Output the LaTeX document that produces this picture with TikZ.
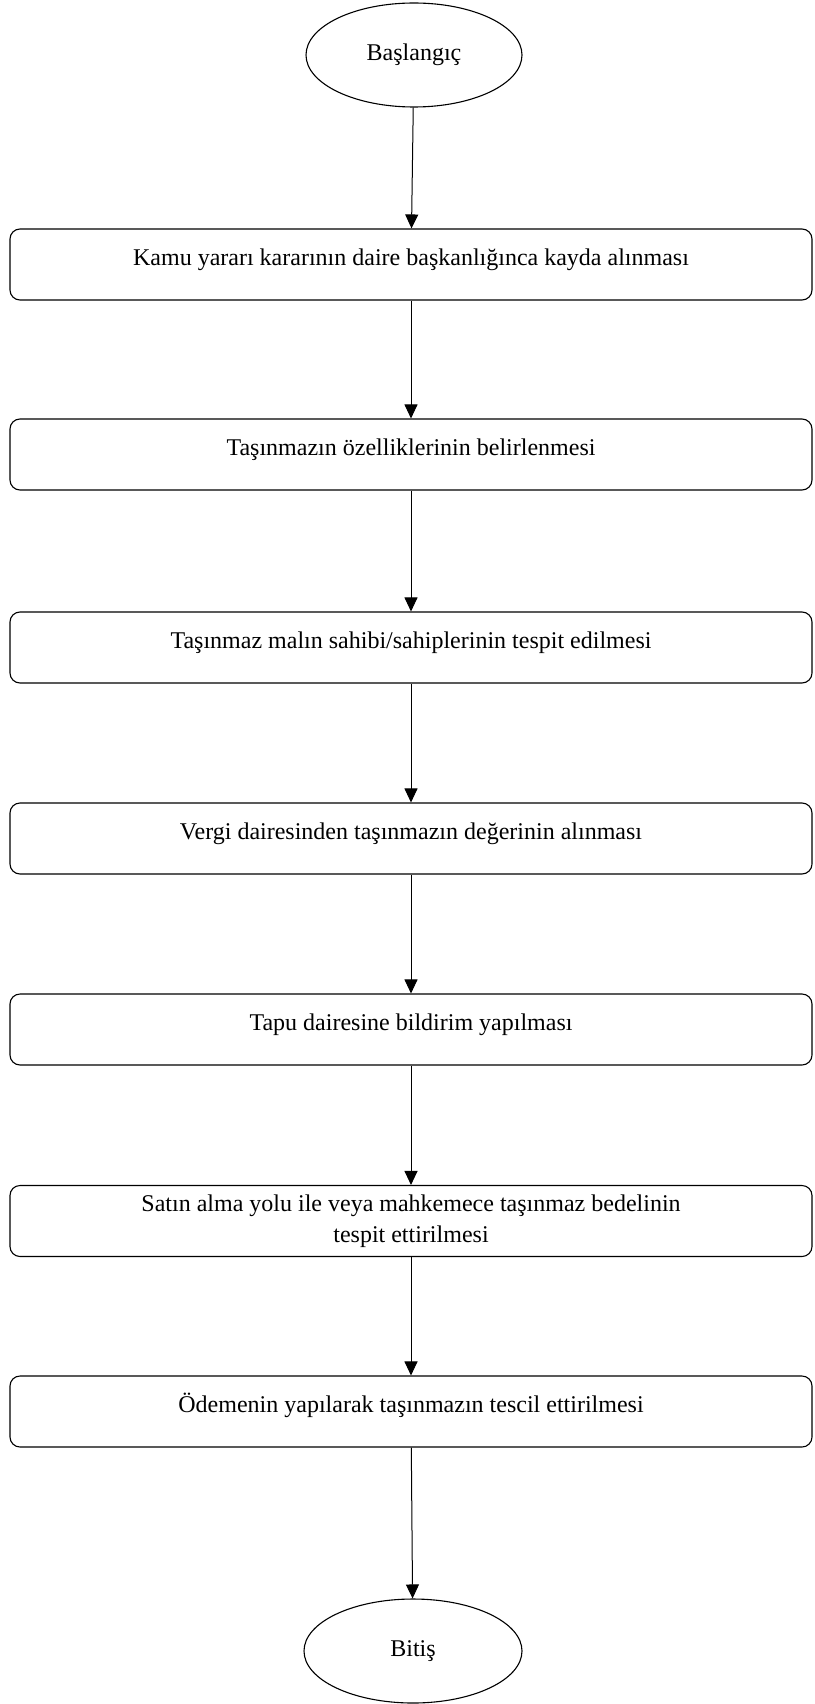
\documentclass[tikz,border=0pt]{standalone}
\usepackage{fontspec}
\setmainfont{Liberation Serif}
\usetikzlibrary{arrows.meta,shapes.geometric}

\begin{document}
\begin{tikzpicture}[
  x=1pt, y=-1pt,
  font=\fontsize{24}{31}\selectfont,
  terminal/.style = {draw, ellipse, line width=1.1pt, minimum width=216pt,
                     minimum height=104pt, inner sep=0pt},
  stepbox/.style  = {draw, rounded corners=10pt, line width=1.1pt, align=center,
                     minimum width=802pt, minimum height=71pt, inner sep=0pt},
  oneline/.style  = {stepbox, text height=0.7em, text depth=0.45em},
  arr/.style      = {-{Triangle[length=14pt,width=13pt]}, line width=1pt}
]
\useasboundingbox (0,0) rectangle (814,1704);

\node[terminal] (start) at (414,55) {Başlangıç};

\node[oneline] (kayit)   at (411,264.5) {Kamu yararı kararının daire başkanlığınca kayda alınması};
\node[oneline] (ozellik) at (411,454.5) {Taşınmazın özelliklerinin belirlenmesi};
\node[oneline] (sahip)   at (411,647.5) {Taşınmaz malın sahibi/sahiplerinin tespit edilmesi};
\node[oneline] (deger)   at (411,838.5) {Vergi dairesinden taşınmazın değerinin alınması};
\node[oneline] (tapu)    at (411,1029.5) {Tapu dairesine bildirim yapılması};
\node[stepbox] (bedel)   at (411,1221)
     {Satın alma yolu ile veya mahkemece taşınmaz bedelinin\\ tespit ettirilmesi};
\node[oneline] (tescil)  at (411,1411.5) {Ödemenin yapılarak taşınmazın tescil ettirilmesi};

\node[terminal, minimum width=218pt] (bitis) at (413,1651) {Bitiş};

\draw[arr] (start) -- (kayit);
\draw[arr] (kayit) -- (ozellik);
\draw[arr] (ozellik) -- (sahip);
\draw[arr] (sahip) -- (deger);
\draw[arr] (deger) -- (tapu);
\draw[arr] (tapu) -- (bedel);
\draw[arr] (bedel) -- (tescil);
\draw[arr] (tescil) -- (bitis);

\end{tikzpicture}
\end{document}
